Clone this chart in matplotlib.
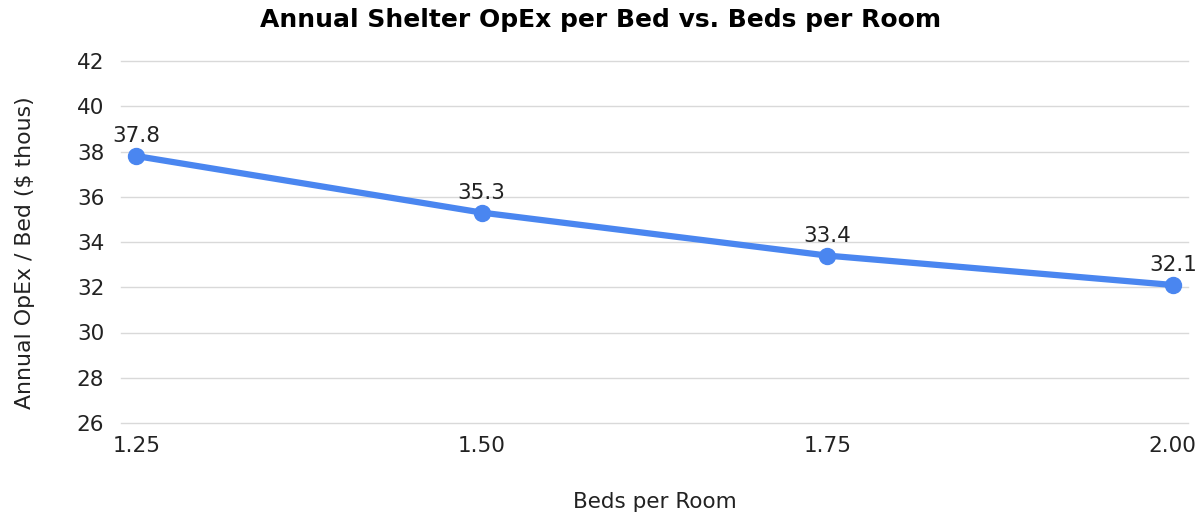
import matplotlib.pyplot as plt

beds_per_room = [1.25, 1.50, 1.75, 2.00]
opex_per_bed = [37.8, 35.3, 33.4, 32.1]
x_ticks = [1.25, 1.50, 1.75, 2.00]
y_ticks = [26, 28, 30, 32, 34, 36, 38, 40, 42]

plt.rcParams['font.family'] = ['DejaVu Sans']

fig = plt.figure(figsize=(12.01, 5.12), dpi=100)
ax = fig.add_axes([121 / 1201, 1 - 423 / 512, (1188 - 121) / 1201, (423 - 61) / 512])

ax.plot(beds_per_room, opex_per_bed, color='#4a86f0', lw=4.5, marker='o',
        markersize=11.5, solid_capstyle='round', zorder=3, clip_on=False)

for x, y in zip(beds_per_room, opex_per_bed):
    ax.annotate(f'{y:.1f}', (x, y), xytext=(0, 7), textcoords='offset points',
                ha='center', va='bottom', fontsize=15.5, color='#222222',
                annotation_clip=False)

ax.set_xlim(1.239, 2.011)
ax.set_ylim(26, 42)
ax.set_xticks(x_ticks)
ax.set_xticklabels([f'{t:.2f}' for t in x_ticks])
ax.set_yticks(y_ticks)
ax.grid(axis='y', color='#d9d9d9', lw=1)
for g in ax.get_ygridlines():
    g.set_clip_on(False)
ax.set_axisbelow(True)
for s in ax.spines.values():
    s.set_visible(False)
ax.tick_params(length=0, labelsize=15.5, colors='#222222')
ax.tick_params(axis='y', pad=12)
ax.tick_params(axis='x', pad=9)

ax.set_xlabel('Beds per Room', fontsize=15.5, color='#222222', labelpad=26)
ax.set_ylabel('Annual OpEx / Bed ($ thous)', fontsize=15.8, color='#222222', labelpad=30)
ax.yaxis.label.set_y(0.47)
fig.suptitle('Annual Shelter OpEx per Bed vs. Beds per Room', x=0.5, y=0.985,
             fontsize=18, fontweight='bold')

fig.savefig('out.png', dpi=100)
